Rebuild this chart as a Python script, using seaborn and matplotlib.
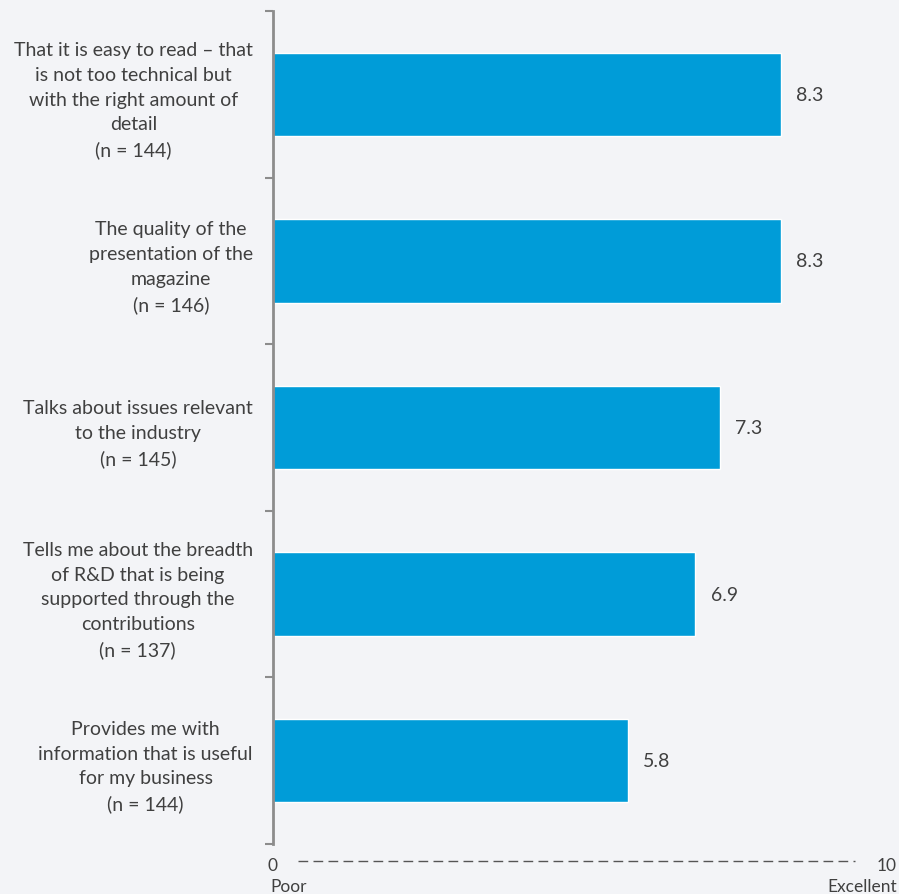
import matplotlib
matplotlib.use("Agg")
import matplotlib.pyplot as plt
import seaborn as sns
import pandas as pd

categories = [
    "That it is easy to read \u2013 that\nis not too technical but\nwith the right amount of\ndetail\n(n = 144)",
    "The quality of the\npresentation of the\nmagazine\n(n = 146)",
    "Talks about issues relevant\nto the industry\n(n = 145)",
    "Tells me about the breadth\nof R&D that is being\nsupported through the\ncontributions\n(n = 137)",
    "Provides me with\ninformation that is useful\nfor my business\n(n = 144)",
]
values = [8.3, 8.3, 7.3, 6.9, 5.8]
scale_min_label = "0"
scale_max_label = "10"
scale_low_text = "Poor"
scale_high_text = "Excellent"

bg = "#F3F4F7"
bar_color = "#009CD8"
text_color = "#404040"

sns.set_theme(style="white")
plt.rcParams["font.family"] = ["Lato", "DejaVu Sans"]

df = pd.DataFrame({"cat": categories, "val": values})

fig = plt.figure(figsize=(8.99, 8.95), dpi=100, facecolor=bg)
W, H = 899, 895
ax = fig.add_axes([273 / W, (H - 845) / H, (885 - 273) / W, (845 - 12) / H])
ax.set_facecolor(bg)

sns.barplot(data=df, x="val", y="cat", orient="h", color=bar_color,
            width=0.5, ax=ax, saturation=1)

ax.set_xlim(0, 10)
ax.set_ylim(len(categories) - 0.5, -0.5)
ax.set_xlabel("")
ax.set_ylabel("")

for s in ["top", "right", "bottom"]:
    ax.spines[s].set_visible(False)
ax.spines["left"].set_color("#8C8C8C")
ax.spines["left"].set_linewidth(2)

ax.set_xticks([])
ax.set_yticks(range(len(categories)))
ax.set_yticklabels(categories, multialignment="center", linespacing=1.55)
ax.tick_params(axis="y", which="major", left=True, length=0, pad=14.5,
               labelsize=14, labelcolor=text_color)
ax.set_yticks([i - 0.5 for i in range(len(categories) + 1)], minor=True)
ax.tick_params(axis="y", which="minor", left=True, length=6, width=1.5,
               color="#8C8C8C", direction="out")

for i, v in enumerate(values):
    ax.text(v + 0.25, i, f"{v:.1f}", va="center", ha="left",
            fontsize=14, color=text_color)

# scale annotation below
tr = ax.get_xaxis_transform()
y_num = -(866 - 845) / (845 - 12)
y_txt = -(887 - 845) / (845 - 12)
ax.text(0, y_num, scale_min_label, transform=tr, ha="center", va="center",
        fontsize=12.5, color=text_color, clip_on=False)
ax.text(10.03, y_num, scale_max_label, transform=tr, ha="center", va="center",
        fontsize=12.5, color=text_color, clip_on=False)
ax.text(-0.05, y_txt, scale_low_text, transform=tr, ha="left", va="center",
        fontsize=12.5, color=text_color, clip_on=False)
ax.text(10.2, y_txt, scale_high_text, transform=tr, ha="right", va="center",
        fontsize=12.5, color=text_color, clip_on=False)
y_dash = -(862 - 845) / (845 - 12)
ax.plot([(298 - 273) / 61.2, (855 - 273) / 61.2], [y_dash, y_dash],
        transform=tr, color="#555555", lw=1.0, ls=(0, (7, 3.8)), clip_on=False)

fig.savefig("out.png", dpi=100, facecolor=bg)
